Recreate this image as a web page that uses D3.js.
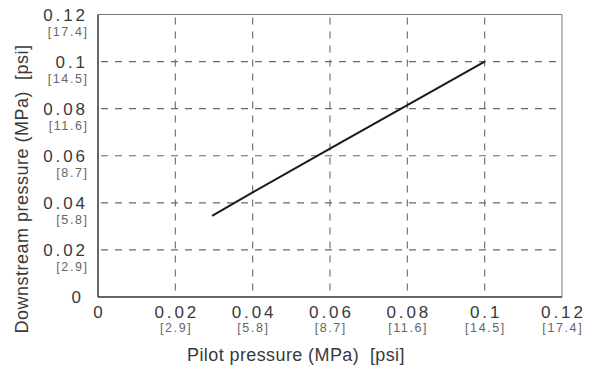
<!DOCTYPE html>
<html>
<head>
<meta charset="utf-8">
<script src="https://cdn.jsdelivr.net/npm/d3@7"></script>
<style>
  body { margin: 0; background: #fff; }
  svg { display: block; }
  text { font-family: "Liberation Sans", Arial, sans-serif; }
</style>
</head>
<body>
<svg id="chart" width="589" height="367"></svg>
<script>
// ticks (MPa) and their psi equivalents
const ticksMPa = [0, 0.02, 0.04, 0.06, 0.08, 0.1, 0.12];
const ticksPsi = ["", "[2.9]", "[5.8]", "[8.7]", "[11.6]", "[14.5]", "[17.4]"];
const tickText = ["0", "0.02", "0.04", "0.06", "0.08", "0.1", "0.12"];

// pilot pressure vs downstream pressure
const pilot = [0.0295, 0.04, 0.06, 0.08, 0.1];
const downstream = [0.0345, 0.0444, 0.063, 0.0815, 0.1];

const svg = d3.select("#chart");
const margin = { left: 98, right: 27, top: 14.5, bottom: 70 };
const width = 589, height = 367;

const x = d3.scaleLinear().domain([0, 0.12]).range([margin.left, width - margin.right]);
const y = d3.scaleLinear().domain([0, 0.12]).range([height - margin.bottom, margin.top]);

const numLS = 2.9, psiLS = 1.6;

// grid
const inner = ticksMPa.slice(1, -1);
svg.append("g").selectAll("line")
    .data(inner)
    .join("line")
    .attr("x1", d => x(d)).attr("x2", d => x(d))
    .attr("y1", y(0.12)).attr("y2", y(0))
    .attr("stroke", "#6a6a6a")
    .attr("stroke-width", 1.1)
    .attr("stroke-dasharray", "7,7")
    .attr("stroke-dashoffset", -3);

svg.append("g").selectAll("line")
    .data(inner)
    .join("line")
    .attr("x1", x(0)).attr("x2", x(0.12))
    .attr("y1", d => y(d)).attr("y2", d => y(d))
    .attr("stroke", "#6a6a6a")
    .attr("stroke-width", 1.1)
    .attr("stroke-dasharray", "7,7")
    .attr("stroke-dashoffset", -3);

// frame: top & right light, left & bottom dark
svg.append("line")
    .attr("x1", x(0)).attr("x2", x(0.12)).attr("y1", y(0.12)).attr("y2", y(0.12))
    .attr("stroke", "#777").attr("stroke-width", 1);
svg.append("line")
    .attr("x1", x(0.12)).attr("x2", x(0.12)).attr("y1", y(0.12)).attr("y2", y(0))
    .attr("stroke", "#777").attr("stroke-width", 1);
svg.append("line")
    .attr("x1", x(0)).attr("x2", x(0)).attr("y1", y(0.12)).attr("y2", y(0))
    .attr("stroke", "#333").attr("stroke-width", 1.5);
svg.append("line")
    .attr("x1", x(0)).attr("x2", x(0.12)).attr("y1", y(0)).attr("y2", y(0))
    .attr("stroke", "#333").attr("stroke-width", 1.5);

// curve
const pts = pilot.map((p, i) => [p, downstream[i]]);
svg.append("path")
    .datum(pts)
    .attr("d", d3.line().x(d => x(d[0])).y(d => y(d[1])))
    .attr("fill", "none")
    .attr("stroke", "#1a1a1a")
    .attr("stroke-width", 2);

// x tick labels
const xl = svg.append("g").attr("text-anchor", "middle");
xl.selectAll(".mpa")
    .data(ticksMPa)
    .join("text")
    .attr("x", d => x(d) + numLS / 2)
    .attr("y", y(0) + 20.5)
    .attr("font-size", 17)
    .attr("letter-spacing", numLS)
    .attr("fill", "#3a3a3a")
    .text((d, i) => tickText[i]);
xl.selectAll(".psi")
    .data(ticksMPa)
    .join("text")
    .attr("x", d => x(d) + psiLS / 2)
    .attr("y", y(0) + 35)
    .attr("font-size", 12.5)
    .attr("letter-spacing", psiLS)
    .attr("fill", "#666")
    .text((d, i) => ticksPsi[i]);

// y tick labels
const yl = svg.append("g").attr("text-anchor", "end");
yl.selectAll(".mpa")
    .data(ticksMPa)
    .join("text")
    .attr("x", d => (d === 0 ? 81 : 85) + numLS)
    .attr("y", d => d === 0 ? y(d) + 6 : y(d) + 6.5)
    .attr("font-size", 17)
    .attr("letter-spacing", numLS)
    .attr("fill", "#3a3a3a")
    .text((d, i) => tickText[i]);
yl.selectAll(".psi")
    .data(ticksMPa)
    .join("text")
    .attr("x", 87 + psiLS)
    .attr("y", d => y(d) + 21.5)
    .attr("font-size", 12.5)
    .attr("letter-spacing", psiLS)
    .attr("fill", "#666")
    .text((d, i) => ticksPsi[i]);

// axis titles
svg.append("text")
    .attr("x", 296)
    .attr("y", 361)
    .attr("text-anchor", "middle")
    .attr("font-size", 18)
    .attr("letter-spacing", 0.4)
    .attr("fill", "#3a3a3a")
    .attr("xml:space", "preserve")
    .text("Pilot pressure (MPa)  [psi]");

svg.append("text")
    .attr("transform", "translate(28,189) rotate(-90)")
    .attr("text-anchor", "middle")
    .attr("font-size", 18)
    .attr("letter-spacing", 0.5)
    .attr("fill", "#3a3a3a")
    .attr("xml:space", "preserve")
    .text("Downstream pressure (MPa)  [psi]");
</script>
</body>
</html>
